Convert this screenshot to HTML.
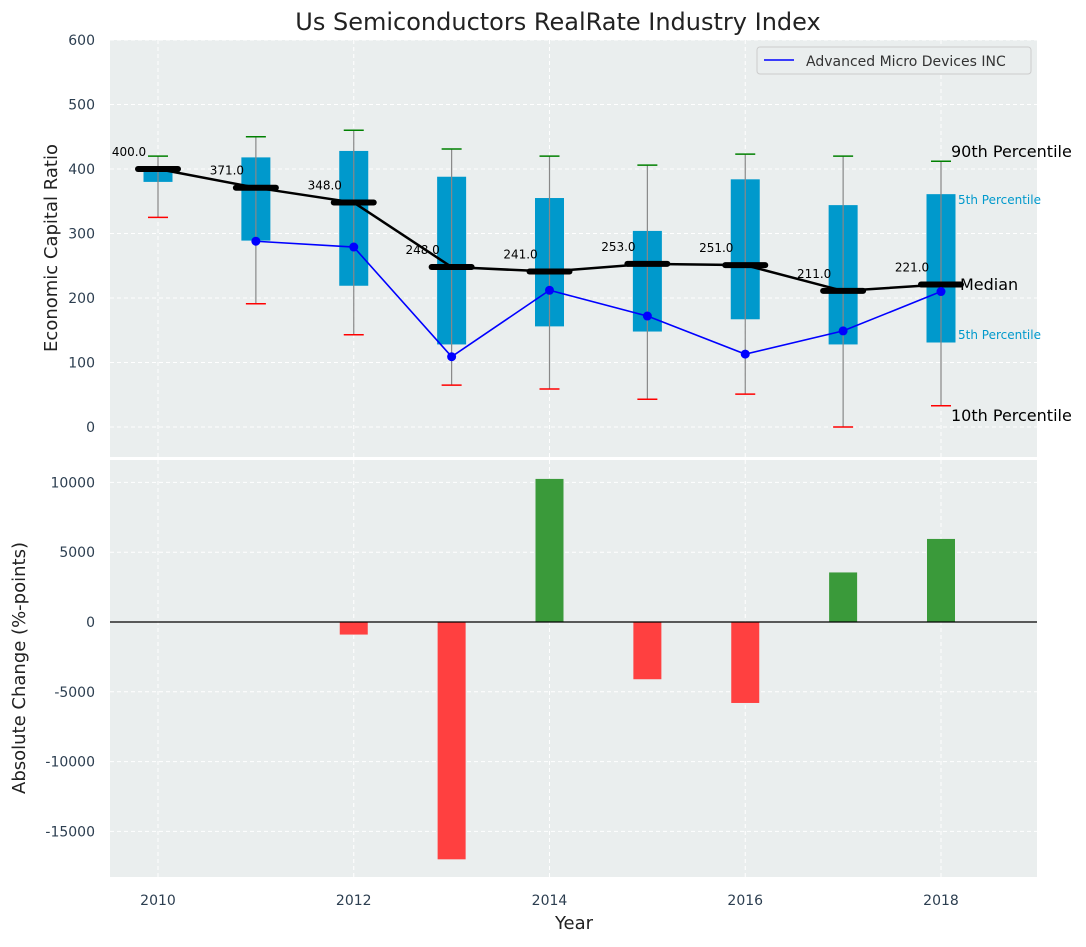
<!DOCTYPE html>
<html><head><meta charset="utf-8"><style>
body{margin:0;background:#fff;font-family:"Liberation Sans","DejaVu Sans",sans-serif;}
svg text{font-family:"DejaVu Sans","Liberation Sans",sans-serif;}
</style></head><body>
<svg id="c" width="1086" height="942" xmlns="http://www.w3.org/2000/svg"></svg>
<script>
const years=[2010,2011,2012,2013,2014,2015,2016,2017,2018];
const q1=[380,289,219,128,156,148,167,128,131];
const q3=[400,418,428,388,355,304,384,344,361];
const lowW=[325,191,143,65,59,43,51,0,33];
const highW=[420,450,460,431,420,406,423,420,412];
const medians=[400,371,348,248,241,253,251,211,221];
const amd=[null,288,279,109,212,172,113,149,210];
const changes=[0,0,-900,-17000,10250,-4100,-5800,3550,5950];
const yTicksTop=[0,100,200,300,400,500,600];
const yTicksBot=[-15000,-10000,-5000,0,5000,10000];
const xTicks=[2010,2012,2014,2016,2018];

const NS="http://www.w3.org/2000/svg";
const svg=document.getElementById('c');
function el(t,a,p){const e=document.createElementNS(NS,t);for(const k in a)e.setAttribute(k,a[k]);(p||svg).appendChild(e);return e;}
const X=v=>158+(v-2010)*97.875;
const YT=v=>427-v*0.645;
const YB=v=>622-v*0.01396;
const L=110,R=1037;
// backgrounds
let e=el('rect',{x:L,y:40,width:R-L,height:417,fill:'#eaeeee'});

e=el('rect',{x:L,y:460,width:R-L,height:417,fill:'#eaeeee'});

// grids
yTicksTop.forEach(t=>{el('line',{x1:L,x2:R,y1:YT(t),y2:YT(t),stroke:'#fff','stroke-dasharray':'4,3'});
 e=el('text',{x:95,y:YT(t)+5,'text-anchor':'end','font-size':14,fill:'#2c3e50'});e.textContent=t;
 });
yTicksBot.forEach(t=>{el('line',{x1:L,x2:R,y1:YB(t),y2:YB(t),stroke:'#fff','stroke-dasharray':'4,3'});
 e=el('text',{x:95,y:YB(t)+5,'text-anchor':'end','font-size':14,fill:'#2c3e50'});e.textContent=t;
 });
xTicks.forEach(t=>{el('line',{x1:X(t),x2:X(t),y1:40,y2:457,stroke:'#fff','stroke-dasharray':'4,3'});
 el('line',{x1:X(t),x2:X(t),y1:460,y2:877,stroke:'#fff','stroke-dasharray':'4,3'});
 e=el('text',{x:X(t),y:905,'text-anchor':'middle','font-size':14,fill:'#2c3e50'});e.textContent=t;
 });
// boxes
years.forEach((y,i)=>{
 const x=X(y);
 e=el('rect',{x:x-14.5,y:YT(q3[i]),width:29,height:YT(q1[i])-YT(q3[i]),fill:'#0099cc'});
 
 el('line',{x1:x,x2:x,y1:YT(lowW[i]),y2:YT(highW[i]),stroke:'#888','stroke-width':1.2});
 el('line',{x1:x-10,x2:x+10,y1:YT(lowW[i]),y2:YT(lowW[i]),stroke:'red','stroke-width':1.5});
 el('line',{x1:x-10,x2:x+10,y1:YT(highW[i]),y2:YT(highW[i]),stroke:'green','stroke-width':1.5});
});
// median line
e=el('polyline',{points:years.map((y,i)=>X(y)+','+YT(medians[i])).join(' '),fill:'none',stroke:'#000','stroke-width':2.5});

years.forEach((y,i)=>{
 e=el('line',{x1:X(y)-20,x2:X(y)+20,y1:YT(medians[i]),y2:YT(medians[i]),stroke:'#000','stroke-width':6,'stroke-linecap':'round'});
 
 e=el('text',{x:X(y)-29,y:YT(medians[i])-13,'text-anchor':'middle','font-size':12,fill:'#000'});e.textContent=medians[i].toFixed(1);
 
});
// amd line
const pts=years.map((y,i)=>amd[i]==null?null:[X(y),YT(amd[i])]).filter(p=>p);
e=el('polyline',{points:pts.map(p=>p.join(',')).join(' '),fill:'none',stroke:'blue','stroke-width':1.6});

pts.forEach(p=>{e=el('circle',{cx:p[0],cy:p[1],r:4.5,fill:'blue'});});
// right annotations
[[951,157,'90th Percentile','#000',16],[958,204,'5th Percentile','#0099cc',12],[960,290,'Median','#000',16],[958,339,'5th Percentile','#0099cc',12],[951,421,'10th Percentile','#000',16]].forEach(a=>{
 e=el('text',{x:a[0],y:a[1],'font-size':a[4],fill:a[3]});e.textContent=a[2];
 });
// legend
const g=el('g',{});
el('rect',{x:757,y:47,width:274,height:27,fill:'#eaeeee',stroke:'#ccc',rx:3},g);
el('line',{x1:764,x2:794,y1:60,y2:60,stroke:'blue','stroke-width':1.6},g);
e=el('text',{x:806,y:66,'font-size':14,fill:'#333'},g);e.textContent='Advanced Micro Devices INC';
// bars
years.forEach((y,i)=>{const v=changes[i];if(!v)return;
 e=el('rect',{x:X(y)-14,y:Math.min(YB(v),YB(0)),width:28,height:Math.abs(YB(v)-YB(0)),fill:v>0?'#3a9a3a':'#ff4040'});
 });
el('line',{x1:L,x2:R,y1:YB(0),y2:YB(0),stroke:'#000','stroke-width':1.2});
// titles
e=el('text',{x:558,y:30,'text-anchor':'middle','font-size':24,fill:'#222'});e.textContent='Us Semiconductors RealRate Industry Index';

e=el('text',{x:0,y:0,'text-anchor':'middle','font-size':18,fill:'#222',transform:'translate(57,248) rotate(-90)'});e.textContent='Economic Capital Ratio';

e=el('text',{x:0,y:0,'text-anchor':'middle','font-size':18,fill:'#222',transform:'translate(25,668) rotate(-90)'});e.textContent='Absolute Change (%-points)';

e=el('text',{x:574,y:929,'text-anchor':'middle','font-size':18,fill:'#222'});e.textContent='Year';

</script>
</body></html>
